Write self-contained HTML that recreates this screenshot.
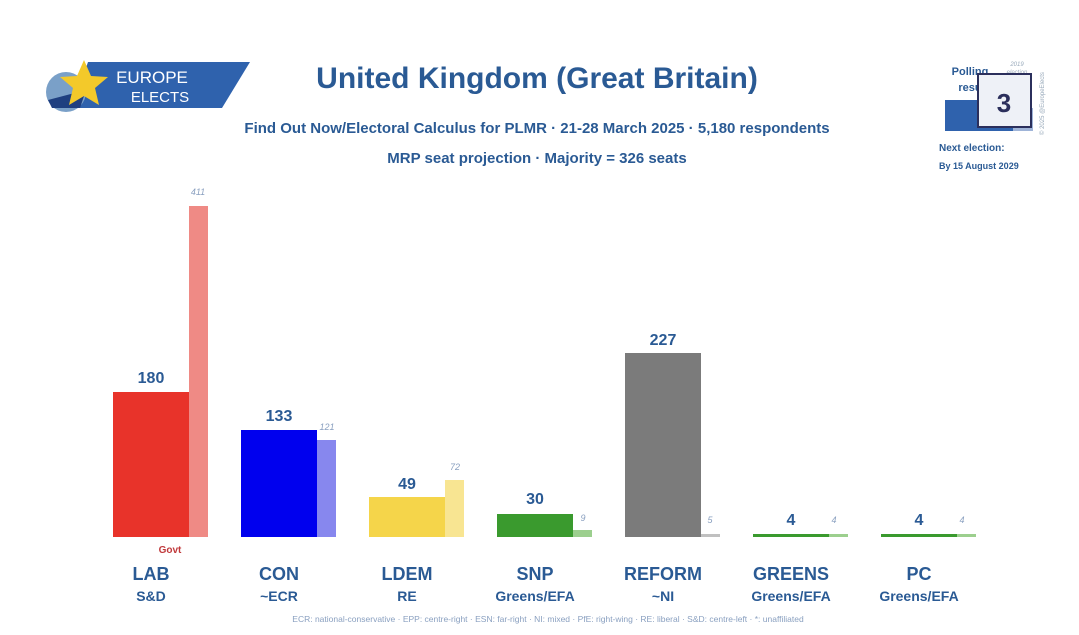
<!DOCTYPE html>
<html><head><meta charset="utf-8"><style>
html,body{margin:0;padding:0;background:#fff;}
svg{display:block;font-family:"Liberation Sans",sans-serif;}
</style></head><body>
<svg width="1079" height="635" viewBox="0 0 1079 635" xmlns="http://www.w3.org/2000/svg">
<rect width="1079" height="635" fill="#fff"/>
<!-- logo -->
<polygon points="88,62 250,62 222,108 72,108" fill="#2f62ad"/>
<circle cx="66" cy="92" r="20" fill="#7aa0c8"/>
<path d="M48,100 L86,90 L80,108 L52,108 Z" fill="#1e3f80"/>
<polygon points="84,60 91,76 108,77 95,88 99,105 84,96 69,105 73,88 60,77 77,76" fill="#f3c92a"/>
<text x="152" y="83" font-size="17" fill="#fff" text-anchor="middle">EUROPE</text>
<text x="160" y="102" font-size="15" fill="#fff" text-anchor="middle">ELECTS</text>
<!-- titles -->
<text x="537" y="88" font-size="30" font-weight="bold" fill="#2a5a94" text-anchor="middle">United Kingdom (Great Britain)</text>
<text x="537" y="133" font-size="15" font-weight="bold" fill="#2a5a94" text-anchor="middle">Find Out Now/Electoral Calculus for PLMR · 21-28 March 2025 · 5,180 respondents</text>
<text x="537" y="163" font-size="15" font-weight="bold" fill="#2a5a94" text-anchor="middle">MRP seat projection · Majority = 326 seats</text>
<!-- top-right -->
<text x="970" y="75" font-size="11" font-weight="bold" fill="#2a5a94" text-anchor="middle">Polling</text>
<text x="970" y="91" font-size="11" font-weight="bold" fill="#2a5a94" text-anchor="middle">resu</text>
<text x="1017" y="66" font-size="6" fill="#9ab" font-style="italic" text-anchor="middle">2019</text>
<text x="1017" y="74" font-size="6" fill="#9ab" font-style="italic" text-anchor="middle">election</text>
<rect x="945" y="100" width="68" height="31" fill="#2f62ad"/>
<rect x="1013" y="108" width="20" height="23" fill="#9fb4d8"/>
<rect x="978" y="74" width="53" height="53" fill="#eef1f7" stroke="#2b2f5c" stroke-width="2"/>
<text x="1004" y="112" font-size="26" font-weight="bold" fill="#2b2f5c" text-anchor="middle">3</text>
<text x="939" y="151" font-size="10" font-weight="bold" fill="#2a5a94">Next election:</text>
<text x="939" y="169" font-size="9" font-weight="bold" fill="#2a5a94">By 15 August 2029</text>
<text transform="translate(1044,135) rotate(-90)" font-size="6" fill="#9ab">© 2025 @EuropeElects</text>
<!-- bars -->
<g>
<rect x="189" y="206" width="19" height="331" fill="#ef8a85"/>
<rect x="113" y="392" width="76" height="145" fill="#e8332a"/>
<rect x="317" y="440" width="19" height="97" fill="#8787ee"/>
<rect x="241" y="430" width="76" height="107" fill="#0000ee"/>
<rect x="445" y="480" width="19" height="57" fill="#f8e592"/>
<rect x="369" y="497" width="76" height="40" fill="#f5d54a"/>
<rect x="573" y="530" width="19" height="7" fill="#9ccf8e"/>
<rect x="497" y="514" width="76" height="23" fill="#3a9a2e"/>
<rect x="701" y="534" width="19" height="3" fill="#c0c0c0"/>
<rect x="625" y="353" width="76" height="184" fill="#7b7b7b"/>
<rect x="829" y="534" width="19" height="3" fill="#9ccf8e"/>
<rect x="753" y="534" width="76" height="3" fill="#3a9a2e"/>
<rect x="957" y="534" width="19" height="3" fill="#9ccf8e"/>
<rect x="881" y="534" width="76" height="3" fill="#3a9a2e"/>
</g>
<g font-size="16" font-weight="bold" fill="#2a5a94" text-anchor="middle">
<text x="151" y="383">180</text>
<text x="279" y="421">133</text>
<text x="407" y="489">49</text>
<text x="535" y="504">30</text>
<text x="663" y="345">227</text>
<text x="791" y="525">4</text>
<text x="919" y="525">4</text>
</g>
<g font-size="9" font-style="italic" fill="#8aa0c0" text-anchor="middle">
<text x="198" y="195">411</text>
<text x="327" y="430">121</text>
<text x="455" y="470">72</text>
<text x="583" y="521">9</text>
<text x="710" y="523">5</text>
<text x="834" y="523">4</text>
<text x="962" y="523">4</text>
</g>
<text x="170" y="553" font-size="10" font-weight="bold" fill="#c0393b" text-anchor="middle">Govt</text>
<g font-size="18" font-weight="bold" fill="#2a5a94" text-anchor="middle">
<text x="151" y="580">LAB</text>
<text x="279" y="580">CON</text>
<text x="407" y="580">LDEM</text>
<text x="535" y="580">SNP</text>
<text x="663" y="580">REFORM</text>
<text x="791" y="580">GREENS</text>
<text x="919" y="580">PC</text>
</g>
<g font-size="14" font-weight="bold" fill="#2a5a94" text-anchor="middle">
<text x="151" y="601">S&amp;D</text>
<text x="279" y="601">~ECR</text>
<text x="407" y="601">RE</text>
<text x="535" y="601">Greens/EFA</text>
<text x="663" y="601">~NI</text>
<text x="791" y="601">Greens/EFA</text>
<text x="919" y="601">Greens/EFA</text>
</g>
<text x="548" y="622" font-size="8.5" fill="#8aa0c0" text-anchor="middle">ECR: national-conservative · EPP: centre-right · ESN: far-right · NI: mixed · PfE: right-wing · RE: liberal · S&amp;D: centre-left · *: unaffiliated</text>
</svg>
</body></html>
